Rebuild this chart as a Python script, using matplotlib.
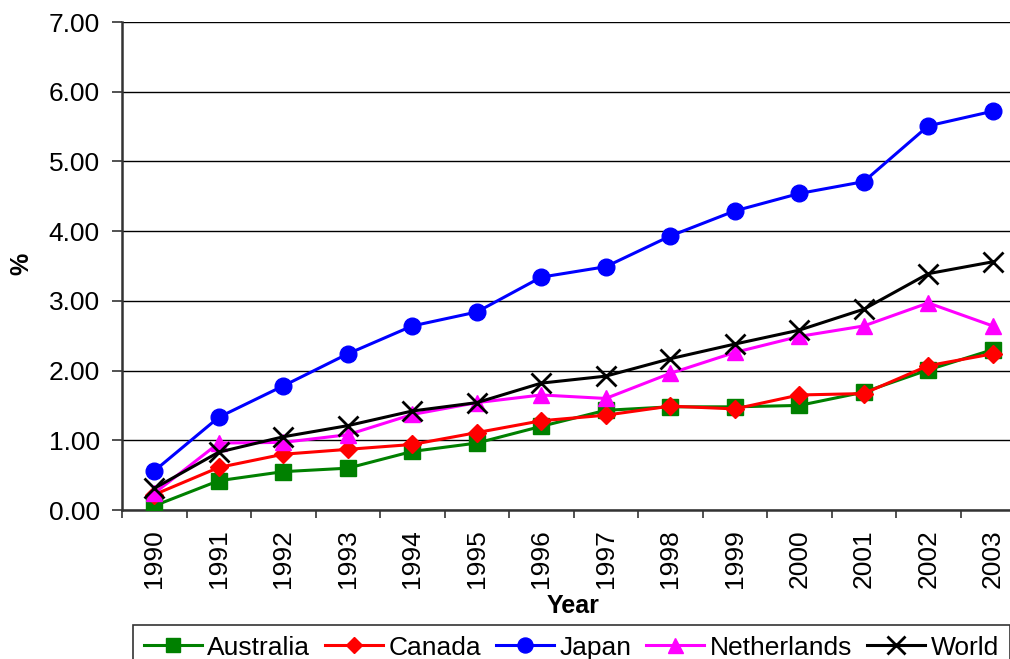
import numpy as np
import matplotlib
matplotlib.use('Agg')
import matplotlib.pyplot as plt
from matplotlib.ticker import FixedLocator, FormatStrFormatter

plt.rcParams['font.family'] = ['Liberation Sans', 'DejaVu Sans']

years = [1990, 1991, 1992, 1993, 1994, 1995, 1996,
         1997, 1998, 1999, 2000, 2001, 2002, 2003]
australia = [0.06, 0.42, 0.55, 0.60, 0.84, 0.96, 1.20,
             1.43, 1.48, 1.48, 1.50, 1.69, 2.01, 2.30]
canada = [0.22, 0.61, 0.80, 0.87, 0.94, 1.11, 1.28,
          1.36, 1.49, 1.45, 1.65, 1.67, 2.07, 2.24]
japan = [0.56, 1.33, 1.78, 2.24, 2.64, 2.84, 3.34,
         3.49, 3.93, 4.29, 4.54, 4.71, 5.51, 5.72]
netherlands = [0.24, 0.96, 0.97, 1.08, 1.37, 1.54, 1.65,
               1.60, 1.96, 2.26, 2.49, 2.64, 2.97, 2.64]
world = [0.31, 0.83, 1.05, 1.21, 1.42, 1.54, 1.82,
         1.92, 2.17, 2.38, 2.58, 2.88, 3.39, 3.56]

W, H = 1010, 659
fig = plt.figure(figsize=(W / 100, H / 100), dpi=100)
# plot area runs off the right edge, like the original sheet export
ax = fig.add_axes([122 / W, (H - 510) / H, 903 / W, 488 / H])

series = [
    ('Australia', australia, '#008000', 's', 11),
    ('Canada', canada, '#FF0000', 'D', 9.5),
    ('Japan', japan, '#0000FF', 'o', 12),
    ('Netherlands', netherlands, '#FF00FF', '^', 12),
    ('World', world, '#000000', 'x', 14.5),
]
for name, vals, col, mk, ms in series:
    ax.plot(years, vals, color=col, lw=2.2, marker=mk, ms=ms,
            mec=col, mfc=col, mew=2 if mk == 'x' else 1,
            label=name, zorder=3)

ax.set_xlim(1989.5, 2003.5)
ax.set_ylim(0, 7)
ax.yaxis.set_major_locator(FixedLocator(np.arange(0, 8, 1)))
ax.yaxis.set_major_formatter(FormatStrFormatter('%.2f'))
ax.grid(axis='y', color='#000000', lw=1)
ax.set_axisbelow(True)

# category ticks between years, labels centred on the years
ax.xaxis.set_major_locator(FixedLocator(np.arange(1989.5, 2004, 1)))
ax.xaxis.set_major_formatter(plt.NullFormatter())
ax.set_xticks(years, [str(y) for y in years], minor=True, rotation=90)
ax.tick_params(axis='x', which='major', length=6, width=1.2,
               direction='out', color='#333333')
ax.tick_params(axis='x', which='minor', length=0, pad=14, labelsize=19)
ax.tick_params(axis='y', length=7, width=1.2, color='#333333',
               pad=9, labelsize=19)

for side in ['top', 'right']:
    ax.spines[side].set_visible(False)
for side in ['left', 'bottom']:
    ax.spines[side].set_linewidth(1.8)
    ax.spines[side].set_color('#333333')

ax.set_xlabel('Year', fontsize=18, fontweight='bold', va='center')
ax.xaxis.set_label_coords(0.5, -0.197)
ax.set_ylabel('%', fontsize=18, fontweight='bold', va='center')
ax.yaxis.set_label_coords(-0.111, 0.504)

leg = fig.legend(loc='upper left', bbox_to_anchor=(133 / W, 1 - 625 / H),
                 ncol=5, fontsize=19, frameon=True, fancybox=False,
                 edgecolor='#000000', borderaxespad=0, borderpad=0.4,
                 handlelength=2.2, handletextpad=0.22, columnspacing=0.55,
                 markerscale=0.9)
leg.get_frame().set_linewidth(1.2)

fig.savefig('out.png', dpi=100)
